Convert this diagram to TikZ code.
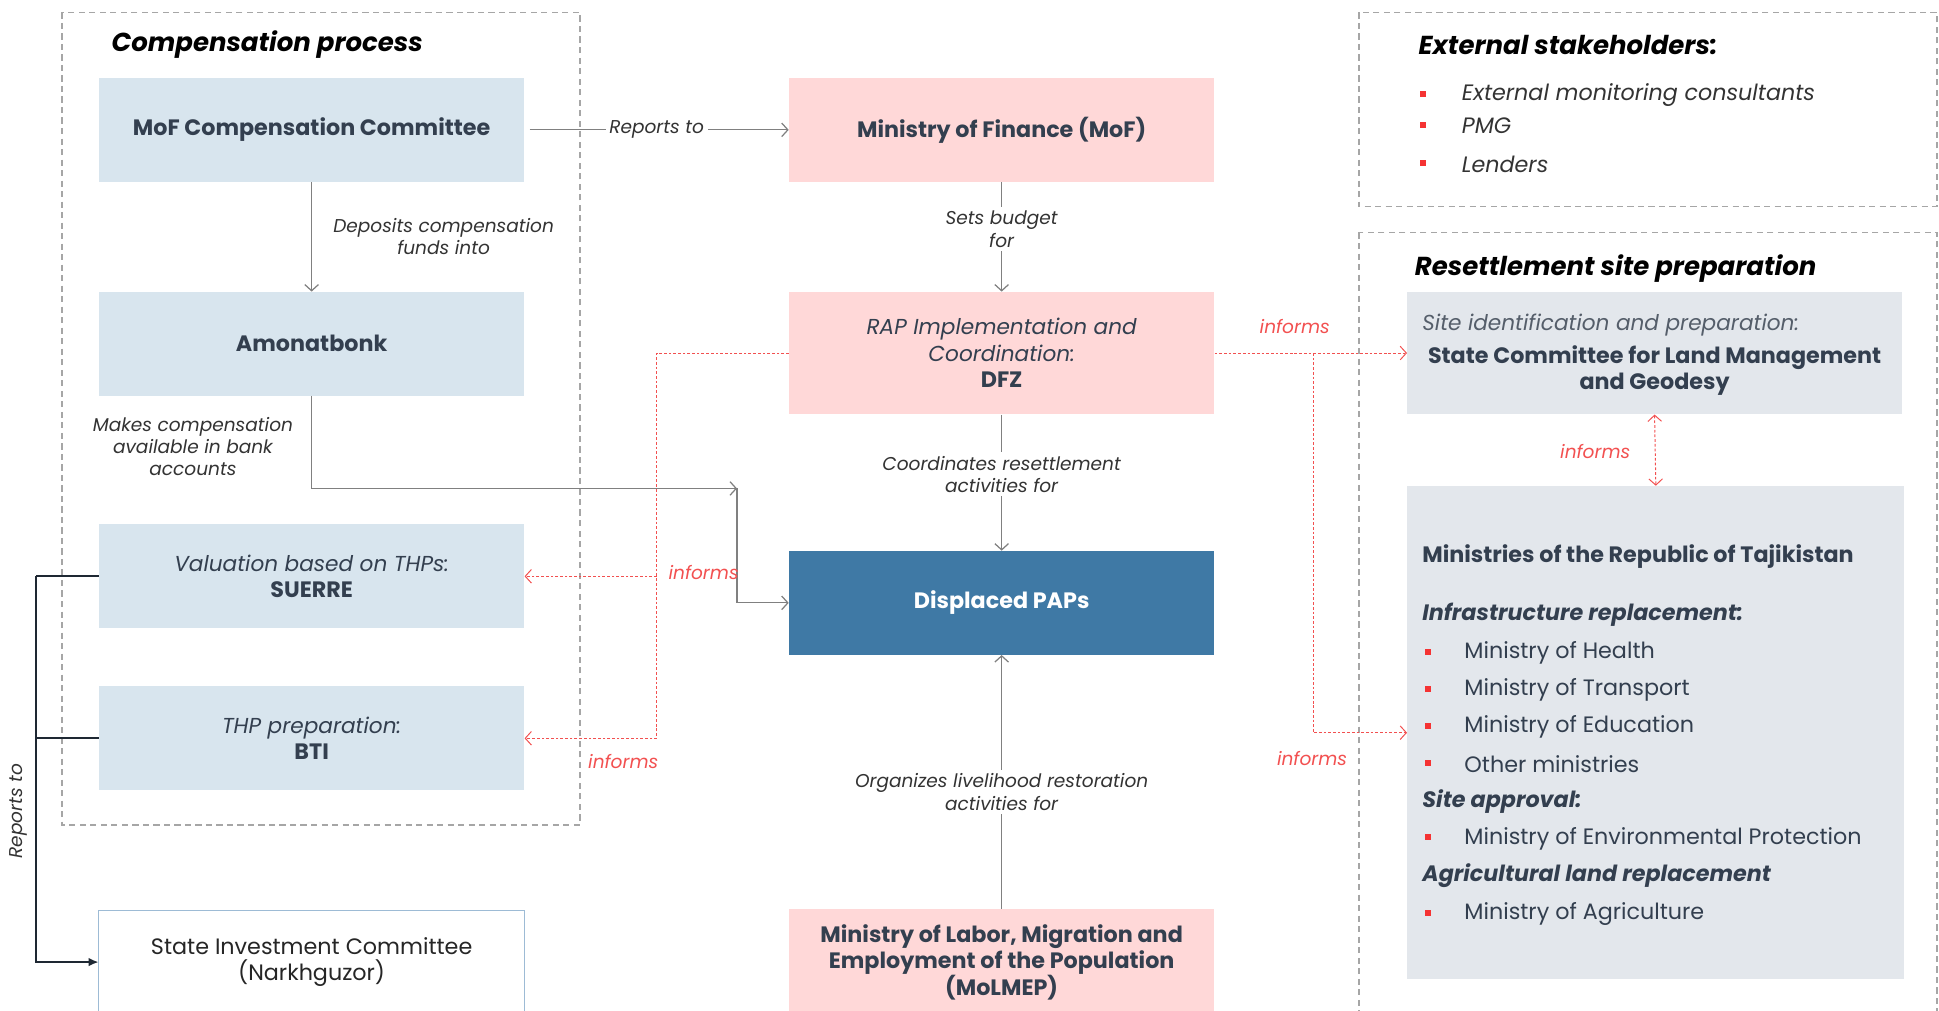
\documentclass[tikz,border=0pt]{standalone}
\usepackage{fontspec}
\setmainfont{Poppins}
\usetikzlibrary{arrows.meta,calc}
\definecolor{ctext}{HTML}{333F4F}
\definecolor{clab}{HTML}{333333}
\definecolor{cblue}{HTML}{D8E5EE}
\definecolor{cpink}{HTML}{FFD8D8}
\definecolor{cdark}{HTML}{3F79A5}
\definecolor{cgray}{HTML}{E3E7EC}
\definecolor{cline}{HTML}{808080}
\definecolor{cred}{HTML}{F25050}
\definecolor{cbul}{HTML}{F53333}
\definecolor{cdash}{HTML}{A6A6A6}
\definecolor{csic}{HTML}{9DBBD5}
\definecolor{cblk}{HTML}{1E2833}
\definecolor{csub}{HTML}{555E6A}
\newcommand\fTtl{\fontsize{21}{24}\selectfont\bfseries\itshape}
\newcommand\fBox{\fontsize{18}{21.5}\selectfont\bfseries}
\newcommand\fBoxI{\fontsize{17.5}{21.5}\selectfont\mdseries\itshape}
\newcommand\fLab{\fontsize{15}{18}\selectfont\mdseries\itshape}
\newcommand\fReg{\fontsize{18}{21}\selectfont\mdseries}
\newcommand\fList{\fontsize{18}{20}\selectfont\mdseries}
\newcommand\fListB{\fontsize{18}{20}\selectfont\bfseries}
\newcommand\fListBI{\fontsize{18}{20}\selectfont\bfseries\itshape}
\newcommand\fExt{\fontsize{18}{20}\selectfont\mdseries\itshape}
\begin{document}
\begin{tikzpicture}[x=1pt,y=-1pt,
  box/.style={minimum width=344pt, minimum height=84pt, inner sep=0pt, align=center, text=ctext, font=\fBox},
  bluebox/.style={box, fill=cblue},
  pinkbox/.style={box, fill=cpink},
  lab/.style={font=\fLab, text=clab, align=center, fill=white, inner sep=3pt},
  redlab/.style={font=\fLab, text=cred, inner sep=1pt},
  ttl/.style={font=\fTtl, text=black, inner sep=0pt, anchor=west},
  garrow/.style={draw=cline, line width=1pt, -{Straight Barb[length=5pt,width=11pt]}},
  rarrow/.style={draw=cred, line width=0.8pt, dash pattern=on 2.2pt off 1.6pt, -{Straight Barb[length=5pt,width=11pt]}},
  dbox/.style={draw=cdash, line width=1.1pt, dash pattern=on 5pt off 3.5pt},
  bul/.style={fill=cbul, minimum size=5pt, inner sep=0pt},
  litem/.style={font=\fList, text=ctext, inner sep=0pt, anchor=west},
  blk/.style={draw=cblk, line width=1.3pt},
]
\useasboundingbox (0,0) rectangle (1568,817.5);

% dashed group frames
\draw[dbox] (50,10) rectangle (469,667);
\draw[dbox] (1099,10) rectangle (1566.5,167);
\draw[dbox] (1099,188) rectangle (1566.5,840);

% titles
\node[ttl] (t1) at (90,36) {Compensation process};
\node[ttl] (t2) at (1147,36) {External stakeholders:};
\node[ttl] (t3) at (1144,217) {Resettlement site preparation};

% left column
\node[bluebox] (mofcc) at (252,105) {MoF Compensation Committee};
\node[bluebox] (amb) at (252,278) {Amonatbonk};
\node[bluebox] (suerre) at (252,466) {{\fBoxI Valuation based on THPs:}\\SUERRE};
\node[bluebox] (bti) at (252,597) {{\fBoxI THP preparation:}\\BTI};
\node[box, fill=white, draw=csic, line width=0.8pt, font=\fReg, text=black!85] (sic) at (252,778) {State Investment Committee\\(Narkhguzor)};

% middle column
\node[pinkbox] (mof) at (810,105) {Ministry of Finance (MoF)};
\node[pinkbox, minimum height=99pt] (rap) at (810,285.5) {{\fBoxI RAP Implementation and}\\{\fBoxI Coordination:}\\DFZ};
\node[box, fill=cdark, text=white] (paps) at (810,487.5) {Displaced PAPs};
\node[pinkbox, minimum height=86pt] (molmep) at (810,778) {Ministry of Labor, Migration and\\Employment of the Population\\(MoLMEP)};

% right column
\node[fill=cgray, minimum width=400pt, minimum height=99pt, inner sep=0pt] (sc) at (1338,285.5) {};
\node[font=\fBoxI, text=csub, inner sep=0pt, anchor=west] (sc1) at (1150,263) {Site identification and preparation:};
\node[font=\fBox, text=ctext, align=center, inner sep=0pt] (sc2) at (1338,299.5) {State Committee for Land Management\\and Geodesy};

\node[fill=cgray, minimum width=402pt, minimum height=399pt, inner sep=0pt] (min) at (1339,592.5) {};
\node[litem, font=\fListB] (m0) at (1150,450) {Ministries of the Republic of Tajikistan};
\node[litem, font=\fListBI] (m1) at (1150,497) {Infrastructure replacement:};
\node[bul] (b1) at (1155,527) {}; \node[litem] (i1) at (1184,528) {Ministry of Health};
\node[bul] (b2) at (1155,557) {}; \node[litem] (i2) at (1184,558) {Ministry of Transport};
\node[bul] (b3) at (1155,587) {}; \node[litem] (i3) at (1184,588) {Ministry of Education};
\node[bul] (b4) at (1155,617) {}; \node[litem] (i4) at (1184,618) {Other ministries};
\node[litem, font=\fListBI] (m2) at (1150,648) {Site approval:};
\node[bul] (b5) at (1155,677) {}; \node[litem] (i5) at (1184,678) {Ministry of Environmental Protection};
\node[litem, font=\fListBI] (m3) at (1150,708) {Agricultural land replacement};
\node[bul] (b6) at (1155,738) {}; \node[litem] (i6) at (1184,739) {Ministry of Agriculture};

% external stakeholders list
\node[bul] (e1b) at (1151,76) {}; \node[litem, font=\fExt, text=clab] (e1) at (1182,77) {External monitoring consultants};
\node[bul] (e2b) at (1151,101) {}; \node[litem, font=\fExt, text=clab] (e2) at (1182,102) {PMG};
\node[bul] (e3b) at (1151,132) {}; \node[litem, font=\fExt, text=clab] (e3) at (1182,133) {Lenders};

% gray connectors
\draw[garrow, shorten <=4pt] (mofcc.east) -- node[lab]{Reports to} (mof.west);
\draw[garrow] (mofcc.south) -- node[lab, fill=none, anchor=west, xshift=14pt]{Deposits compensation\\funds into} (amb.north);
\draw[garrow] (mof.south) -- node[lab, pos=0.43]{Sets budget\\for} (rap.north);
\draw[garrow] (rap.south) -- node[lab, pos=0.44]{Coordinates resettlement\\activities for} (paps.north);
\draw[garrow] (molmep.north) -- node[lab, pos=0.46]{Organizes livelihood restoration\\activities for} (paps.south);
\coordinate (ac) at (596,395);
\draw[garrow] (amb.south) |- (ac);
\draw[garrow] (ac) |- (paps.west);
\node[lab, fill=none] (mk) at (156,361) {Makes compensation\\available in bank\\accounts};

% red informs connectors
\coordinate (rj1) at (531,466);
\coordinate (rj2) at (531,597);
\draw[rarrow] (rap.west) -| (rj2) -- (bti.east);
\draw[rarrow] (rj1) -- (suerre.east);
\draw[rarrow] (rap.east) -- (sc.west);
\coordinate (rr1) at (1062,285.5);
\draw[rarrow] (rr1) |- (min.west);
\draw[rarrow, {Straight Barb[length=5pt,width=11pt]}-{Straight Barb[length=5pt,width=11pt]}] (sc.south) -- (min.north);
\node[redlab] (r1) at (569,463) {informs};
\node[redlab] (r2) at (504,616) {informs};
\node[redlab] (r3) at (1047,264) {informs};
\node[redlab] (r4) at (1061,613) {informs};
\node[redlab] (r5) at (1290,365) {informs};

% black reports-to connector
\coordinate (bk1) at (29,466);
\coordinate (bk2) at (29,597);
\draw[blk] (suerre.west) -- (bk1);
\draw[blk] (bti.west) -- (bk2);
\draw[blk, -{Latex[length=8pt,width=7pt]}] (bk1) |- (sic.west);
\node[font=\fLab, text=clab, rotate=90, inner sep=0pt] (rep) at (15,656) {Reports to};
\end{tikzpicture}
\end{document}
